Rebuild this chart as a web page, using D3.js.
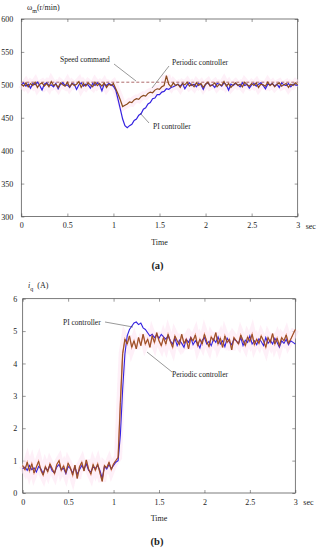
<!DOCTYPE html>
<html>
<head>
<meta charset="utf-8">
<script src="https://cdn.jsdelivr.net/npm/d3@7"></script>
<style>
  body { margin: 0; background: #fff; }
  svg text { font-family: "Liberation Serif", "Times New Roman", serif; fill: #222; }
</style>
</head>
<body>
<div id="chart"></div>
<script>
// sample time step (s) for every series
const dt = 0.025;

// (a) speed, r/min
const speedCommand = 504;
const speedPeriodic = [
  501,498,503,497,502,499,504,496,501,503,
  498,502,497,505,499,501,496,503,500,498,
  504,497,502,499,501,505,496,502,498,503,
  500,497,504,499,502,498,503,496,501,499,
  502,
  494,486,477,467,469,471,474,473,477,479,
  478,482,484,483,487,489,488,492,494,493,
  497,499,514,501,
  497,503,499,501,496,502,500,504,498,501,
  497,503,499,502,496,501,504,498,500,503,
  497,501,499,505,498,502,496,500,503,499,
  501,497,504,500,498,502,499,503,496,501,
  500,498,504,499,502,497,501,503,498,500,
  502,496,501,499,503,500
];
const speedPI = [
  500,503,498,501,495,502,500,504,499,492,
  501,503,499,500,497,502,494,501,503,499,
  500,496,502,501,493,500,503,498,501,500,
  495,502,499,503,500,491,501,499,502,500,
  498,
  492,478,463,448,438,435,438,440,446,448,
  454,456,463,465,471,473,479,480,485,485,
  489,490,494,493,
  496,497,499,501,498,502,494,500,503,499,
  501,497,502,500,493,501,503,499,500,496,
  502,501,498,503,500,492,501,499,502,500,
  497,503,499,501,495,500,502,498,501,503,
  499,494,501,500,502,498,501,496,503,500,
  499,502,497,501,500,499
];

// (b) q-axis current, A
const iqPeriodic = [
  0.85,0.72,0.95,0.68,0.9,0.62,0.8,0.98,0.7,0.55,
  0.82,0.65,0.9,0.75,0.6,0.88,1.0,0.7,0.84,0.63,
  0.92,0.78,0.55,0.86,0.45,0.8,0.95,0.68,1.02,0.74,
  0.58,0.88,0.7,0.9,0.62,0.36,0.85,0.78,0.95,0.72,
  0.9,1.0,
  1.1,2.8,4.3,
  4.75,4.6,4.85,4.5,4.7,4.45,4.8,4.55,4.9,4.6,
  4.75,4.5,4.85,4.65,4.95,4.7,4.55,4.8,4.6,4.9,
  4.68,4.5,4.85,4.7,4.58,4.9,4.62,4.75,4.45,4.8,
  4.7,4.88,4.55,4.75,4.6,4.9,4.68,4.52,4.82,4.7,
  4.95,4.6,4.78,4.5,4.85,4.65,4.75,4.42,4.8,4.7,
  4.6,4.88,4.7,4.55,4.82,4.68,4.9,4.58,4.75,4.62,
  4.85,4.7,4.5,4.8,4.65,4.92,4.6,4.78,4.55,4.8,
  4.7,4.88,4.62,4.75,4.9,5.05
];
const iqPI = [
  0.75,0.8,0.7,0.85,0.72,0.78,0.65,0.82,0.75,0.6,
  0.78,0.7,0.85,0.68,0.62,0.8,0.88,0.72,0.76,0.6,
  0.82,0.75,0.62,0.8,0.58,0.72,0.85,0.74,0.9,0.7,
  0.65,0.8,0.76,0.85,0.7,0.45,0.82,0.74,0.88,0.75,
  0.85,0.95,
  1.0,1.8,3.2,4.3,4.85,5.05,5.15,5.25,5.28,5.2,
  5.25,5.1,5.05,4.95,4.85,4.9,4.8,4.88,4.78,4.9,
  4.82,4.75,4.85,
  4.7,4.6,4.78,4.55,4.72,4.62,4.5,4.75,4.65,4.8,
  4.58,4.7,4.62,4.48,4.72,4.8,4.6,4.68,4.55,4.75,
  4.65,4.82,4.6,4.7,4.52,4.78,4.66,4.58,4.75,4.7,
  4.62,4.8,4.55,4.72,4.65,4.85,4.6,4.7,4.58,4.76,
  4.68,4.55,4.8,4.62,4.72,4.6,4.78,4.65,4.5,4.7,
  4.62,4.75,4.58,4.7,4.65,4.6
];

const xTicks = [0, 0.5, 1, 1.5, 2, 2.5, 3];
const speedTicks = [300, 350, 400, 450, 500, 550, 600];
const iqTicks = [0, 1, 2, 3, 4, 5, 6];

const blue = "#3422e0", brown = "#8a4a1e", halo = "#fde6f4";
const serif = "Liberation Serif, Times New Roman, serif";

const svg = d3.select("#chart").append("svg")
  .attr("width", 321).attr("height", 550)
  .attr("font-family", serif);

function panel(box, yDomain, yTicks) {
  const g = svg.append("g");
  const x = d3.scaleLinear().domain([0, 3]).range([box.left, box.right]);
  const y = d3.scaleLinear().domain(yDomain).range([box.bottom, box.top]);
  const fmt = d => String(d);

  // inward ticks on all four sides
  const axes = [
    [d3.axisBottom(x).tickValues(xTicks).tickFormat(fmt).tickSizeInner(-3).tickPadding(6), "translate(0," + box.bottom + ")"],
    [d3.axisTop(x).tickValues(xTicks).tickSizeInner(-3).tickFormat(""), "translate(0," + box.top + ")"],
    [d3.axisLeft(y).tickValues(yTicks).tickFormat(fmt).tickSizeInner(-3).tickPadding(box.pad), "translate(" + box.left + ",0)"],
    [d3.axisRight(y).tickValues(yTicks).tickSizeInner(-3).tickFormat(""), "translate(" + box.right + ",0)"]
  ];
  axes.forEach(([ax, tr]) => {
    const a = g.append("g").attr("transform", tr).call(ax.tickSizeOuter(0));
    a.attr("font-family", serif);
    a.select(".domain").remove();
    a.selectAll("line").attr("stroke", "#555").attr("stroke-width", 0.6);
    a.selectAll("text").attr("font-size", 8).attr("fill", "#222");
  });

  g.append("rect")
    .attr("x", box.left).attr("y", box.top)
    .attr("width", box.right - box.left).attr("height", box.bottom - box.top)
    .attr("fill", "none").attr("stroke", "#444").attr("stroke-width", 0.7);

  g.append("text").attr("x", box.right + 8).attr("y", box.bottom + 12)
    .attr("font-size", 8).text("sec");
  g.append("text").attr("x", (box.left + box.right) / 2).attr("y", box.bottom + 28)
    .attr("text-anchor", "middle").attr("font-size", 8).text("Time");
  g.append("text").attr("x", (box.left + box.right) / 2 - 2).attr("y", box.bottom + 52)
    .attr("text-anchor", "middle").attr("font-size", 10.5).attr("font-weight", "bold")
    .text(box.tag);

  const line = d3.line().x((d, i) => x(i * dt)).y(d => y(d));
  return { g, x, y, line };
}

// ---- (a) speed ----
const pa = panel({ left: 21.3, right: 297.7, top: 19, bottom: 216.5, pad: 8, tag: "(a)" }, [300, 600], speedTicks);

pa.g.append("path").datum(speedPeriodic).attr("d", pa.line)
  .attr("fill", "none").attr("stroke", halo).attr("stroke-width", 8).attr("opacity", 0.6);
pa.g.append("line")
  .attr("x1", pa.x(0)).attr("x2", pa.x(3))
  .attr("y1", pa.y(speedCommand)).attr("y2", pa.y(speedCommand))
  .attr("stroke", "#8b2a2a").attr("stroke-width", 0.7).attr("stroke-dasharray", "3,2");
pa.g.append("path").datum(speedPI).attr("d", pa.line)
  .attr("fill", "none").attr("stroke", blue).attr("stroke-width", 1.2);
pa.g.append("path").datum(speedPeriodic).attr("d", pa.line)
  .attr("fill", "none").attr("stroke", brown).attr("stroke-width", 1.2);

function note(g, txt, tx, ty, anchor, x1, y1, x2, y2) {
  g.append("line").attr("x1", x1).attr("y1", y1).attr("x2", x2).attr("y2", y2)
    .attr("stroke", "#333").attr("stroke-width", 0.5);
  g.append("text").attr("x", tx).attr("y", ty).attr("text-anchor", anchor)
    .attr("font-size", 7.5).text(txt);
}
note(pa.g, "Speed command", 60, 62, "start", 114, 64, 136, 81);
note(pa.g, "Periodic controller", 172, 65, "start", 169, 66, 152, 88);
note(pa.g, "PI controller", 153, 129, "start", 149, 123, 140, 113);

const la = svg.append("text").attr("x", 27).attr("y", 10).attr("font-size", 8);
la.append("tspan").text("ω");
la.append("tspan").attr("font-size", 6).attr("dy", 3).text("m");
la.append("tspan").attr("dy", -3).text("(r/min)");

// ---- (b) iq ----
const pb = panel({ left: 22.7, right: 295.3, top: 298.7, bottom: 493, pad: 5.5, tag: "(b)" }, [0, 6], iqTicks);

pb.g.append("path").datum(iqPeriodic).attr("d", pb.line)
  .attr("fill", "none").attr("stroke", halo).attr("stroke-width", 8).attr("opacity", 0.6);
pb.g.append("path").datum(iqPI).attr("d", pb.line)
  .attr("fill", "none").attr("stroke", blue).attr("stroke-width", 1.1);
pb.g.append("path").datum(iqPeriodic).attr("d", pb.line)
  .attr("fill", "none").attr("stroke", "#d2461e").attr("stroke-width", 1.4).attr("opacity", 0.6);
pb.g.append("path").datum(iqPeriodic).attr("d", pb.line)
  .attr("fill", "none").attr("stroke", brown).attr("stroke-width", 0.9);

note(pb.g, "PI controller", 63, 325, "start", 105, 322, 133, 327);
note(pb.g, "Periodic controller", 172, 377, "start", 172, 372, 147, 352);

const lb = svg.append("text").attr("x", 28).attr("y", 288).attr("font-size", 8);
lb.append("tspan").attr("font-style", "italic").text("i");
lb.append("tspan").attr("font-size", 6).attr("dy", 3).text("q");
lb.append("tspan").attr("dy", -3).attr("dx", 4).text("(A)");
</script>
</body>
</html>
